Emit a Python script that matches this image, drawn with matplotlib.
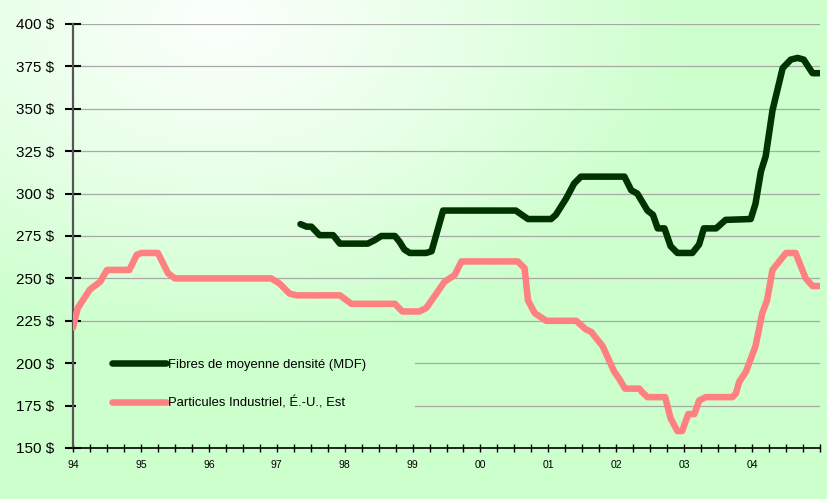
import numpy as np
import matplotlib
matplotlib.use("Agg")
import matplotlib.pyplot as plt
from matplotlib.ticker import MultipleLocator, FuncFormatter
from matplotlib.patches import Rectangle

plt.rcParams['font.family'] = ['Liberation Sans', 'DejaVu Sans']

# Particules Industriel, É.-U., Est  (date en année décimale, prix $)
part_dates = [1994.00, 1994.07, 1994.25, 1994.40, 1994.50, 1994.83, 1994.94, 1995.01,
              1995.25, 1995.40, 1995.50, 1996.92, 1997.04, 1997.19, 1997.29, 1997.93,
              1998.10, 1998.74, 1998.85, 1999.10, 1999.20, 1999.35, 1999.47, 1999.62,
              1999.72, 2000.55, 2000.65, 2000.70, 2000.80, 2000.97, 2001.41, 2001.55,
              2001.63, 2001.80, 2001.97, 2002.04, 2002.13, 2002.34, 2002.38, 2002.46,
              2002.72, 2002.80, 2002.90, 2002.97, 2003.06, 2003.15, 2003.22, 2003.32,
              2003.71, 2003.76, 2003.81, 2003.91, 2004.05, 2004.15, 2004.22, 2004.30,
              2004.40, 2004.50, 2004.64, 2004.79, 2004.89, 2004.99]
part_vals = [221, 232.5, 243.5, 248, 255, 255, 264, 265,
             265, 253, 250, 250, 247, 241, 240, 240,
             235, 235, 230.5, 230.5, 232.5, 241, 248, 252,
             260, 260, 256, 237, 229.5, 225, 225, 220,
             218.5, 210, 195, 191, 185, 185, 183, 180,
             180, 167.5, 160, 160, 170, 170, 178, 180,
             180, 182, 189, 195, 210, 229.5, 237, 255,
             260, 265, 265, 250, 245.5, 245.5]

# Fibres de moyenne densité (MDF)
mdf_dates = [1997.35, 1997.44, 1997.51, 1997.63, 1997.83, 1997.93, 1998.34, 1998.44,
             1998.54, 1998.74, 1998.81, 1998.88, 1998.96, 1999.20, 1999.28, 1999.45,
             2000.52, 2000.70, 2001.04, 2001.11, 2001.26, 2001.38, 2001.48, 2002.12,
             2002.22, 2002.31, 2002.46, 2002.54, 2002.61, 2002.71, 2002.80, 2002.90,
             2003.12, 2003.22, 2003.29, 2003.47, 2003.61, 2003.98, 2004.05, 2004.13,
             2004.20, 2004.30, 2004.45, 2004.57, 2004.67, 2004.76, 2004.89, 2004.99]
mdf_vals = [282, 280.5, 280.5, 275.5, 275.5, 270.5, 270.5, 272.5,
            275, 275, 271.5, 267, 265, 265, 266, 290,
            290, 285, 285, 287.5, 297, 306, 310, 310,
            302, 300, 290, 287.5, 279.5, 279.5, 269, 265,
            265, 270, 279.5, 279.5, 284.5, 285, 294, 313,
            322, 349, 374, 379, 380, 379, 371, 371]

years = list(range(1994, 2005))
year_labels = ['94', '95', '96', '97', '98', '99', '00', '01', '02', '03', '04']

fig = plt.figure(figsize=(8.28, 4.99), dpi=100)

# fond dégradé blanc -> vert pâle
bg = fig.add_axes([0, 0, 1, 1])
xx, yy = np.meshgrid(np.linspace(0, 828, 400), np.linspace(0, 499, 250))
t = np.clip(np.sqrt(((xx - 220) / 480) ** 2 + ((yy - 20) / 330) ** 2), 0, 1) ** 1.2
white = np.array([0.985, 1.0, 0.985])
green = np.array([0.80, 1.0, 0.80])
img = white[None, None, :] * (1 - t[..., None]) + green[None, None, :] * t[..., None]
bg.imshow(img, extent=[0, 828, 499, 0], aspect='auto')
bg.set_xlim(0, 828)
bg.set_ylim(499, 0)
bg.axis('off')

ax = fig.add_axes([73 / 828, 1 - 448 / 499, (820 - 73) / 828, (448 - 24) / 499])
ax.patch.set_alpha(0)

ax.plot(mdf_dates, mdf_vals, color='#003300', lw=4.7, solid_capstyle='round',
        solid_joinstyle='round', label='Fibres de moyenne densité (MDF)', zorder=3)
ax.plot(part_dates, part_vals, color='#ff8080', lw=4.7, solid_capstyle='round',
        solid_joinstyle='round', label='Particules Industriel, É.-U., Est', zorder=3)

ax.set_xlim(1994, 2005)
ax.set_ylim(150, 400)

ax.yaxis.set_major_locator(MultipleLocator(25))
ax.yaxis.set_major_formatter(FuncFormatter(lambda v, p: f"{int(v)} $"))
ax.set_xticks(years)
ax.set_xticklabels(year_labels)
ax.xaxis.set_minor_locator(MultipleLocator(0.25))

ax.tick_params(axis='y', direction='inout', length=11, width=1.5, labelsize=11,
               pad=8, color='black')
ax.tick_params(axis='x', which='both', direction='inout', length=6, width=1.0,
               labelsize=7.5, pad=6, color='black')

ax.grid(axis='y', color='#a8a8a8', lw=0.9, zorder=1)
for s in ['top', 'right']:
    ax.spines[s].set_visible(False)
ax.spines['left'].set_color('#555555')
ax.spines['left'].set_linewidth(1.6)
ax.spines['bottom'].set_color('black')
ax.spines['bottom'].set_linewidth(1.2)

# zone de la légende qui masque la grille
ax.add_patch(Rectangle((76 / 828, 1 - 425 / 499), 339 / 828, 90 / 499,
                       transform=fig.transFigure, facecolor='#ccffcc',
                       edgecolor='none', zorder=2))

leg = ax.legend(loc='upper left', bbox_to_anchor=(0.036, 0.238), fontsize=9.4,
                handlelength=4.2, handletextpad=0.12, labelspacing=1.95,
                frameon=False, borderpad=0.4)
leg.set_zorder(4)

fig.savefig('out.png', dpi=100)
